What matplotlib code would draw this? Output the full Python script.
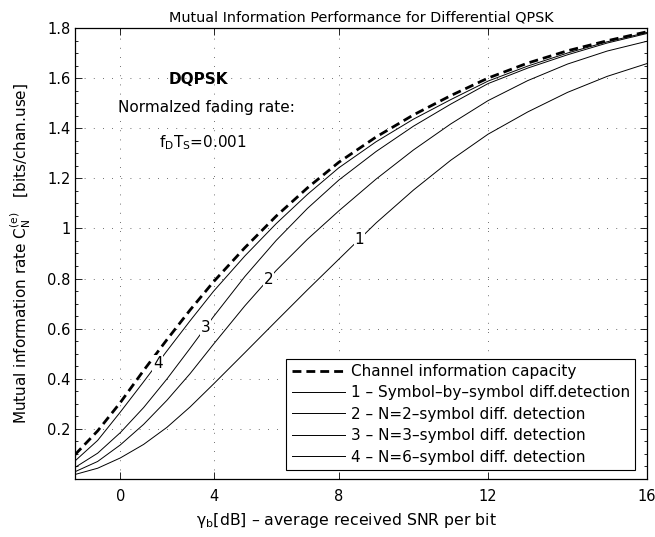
import numpy as np
import matplotlib.pyplot as plt
from matplotlib.ticker import FixedLocator, MultipleLocator, NullLocator

plt.rcParams['font.family'] = ['DejaVu Sans']
plt.rcParams['font.size'] = 11

# SNR per bit [dB]
snr_db = np.arange(-2, 17, 1)

# mutual information rate [bits/chan.use]
capacity = [0.097, 0.192, 0.305, 0.433, 0.556, 0.675, 0.787, 0.923, 1.049, 1.162,
            1.264, 1.365, 1.453, 1.530, 1.600, 1.660, 1.709, 1.749, 1.785]
n1_sym = [0.018, 0.043, 0.084, 0.138, 0.206, 0.288, 0.379, 0.504, 0.630, 0.755,
          0.877, 1.022, 1.153, 1.272, 1.376, 1.465, 1.543, 1.607, 1.658]
n2_sym = [0.029, 0.070, 0.136, 0.218, 0.314, 0.421, 0.538, 0.691, 0.832, 0.957,
          1.070, 1.197, 1.313, 1.417, 1.510, 1.590, 1.656, 1.708, 1.747]
n3_sym = [0.046, 0.103, 0.185, 0.285, 0.399, 0.522, 0.648, 0.808, 0.952, 1.080,
          1.193, 1.307, 1.408, 1.496, 1.578, 1.640, 1.693, 1.740, 1.778]
n6_sym = [0.072, 0.154, 0.267, 0.388, 0.511, 0.632, 0.749, 0.890, 1.019, 1.136,
          1.242, 1.346, 1.436, 1.514, 1.588, 1.648, 1.700, 1.745, 1.782]

curves = [n1_sym, n2_sym, n3_sym, n6_sym]
curve_tags = ['1', '2', '3', '4']
tag_db = [8.55, 5.75, 3.65, 1.6]

legend_labels = ['Channel information capacity',
                 '1 \u2013 Symbol\u2013by\u2013symbol diff.detection',
                 '2 \u2013 N=2\u2013symbol diff. detection',
                 '3 \u2013 N=3\u2013symbol diff. detection',
                 '4 \u2013 N=6\u2013symbol diff. detection']

x_ticks = [0, 4, 8, 12, 16]
y_ticks = [0.2, 0.4, 0.6, 0.8, 1.0, 1.2, 1.4, 1.6, 1.8]

# the x axis of the original is not evenly spaced in dB,
# this maps dB to the horizontal position the original uses
warp_db = np.array([-100, -2, 0, 4, 8, 12, 16, 100])
warp_pos = np.array([-2219.7, 0, 45.3, 138.5, 263.8, 413, 572, 3911])


def db_to_pos(x):
    return np.interp(x, warp_db, warp_pos)


def pos_to_db(p):
    return np.interp(p, warp_pos, warp_db)


fig = plt.figure(figsize=(6.55, 5.37), dpi=100)
ax = fig.add_axes([0.1145, 0.108, 0.8733, 0.8399])
ax.set_xscale('function', functions=(db_to_pos, pos_to_db))

ax.plot(snr_db, capacity, color='black', lw=2.0, dashes=(3.2, 1.8),
        label=legend_labels[0])
for vals, lab in zip(curves, legend_labels[1:]):
    ax.plot(snr_db, vals, color='black', lw=0.7, label=lab)

# curve numbers sitting on the lines
for vals, tag, xd in zip(curves, curve_tags, tag_db):
    ax.text(xd, np.interp(xd, snr_db, vals), tag, ha='center', va='center',
            bbox=dict(facecolor='white', edgecolor='none', pad=0.5))

ax.set_xlim(-2, 16)
ax.set_ylim(0, 1.8)
ax.xaxis.set_major_locator(FixedLocator(x_ticks))
ax.xaxis.set_minor_locator(NullLocator())
ax.yaxis.set_major_locator(FixedLocator(y_ticks))
ax.yaxis.set_minor_locator(MultipleLocator(0.05))
ax.set_xticklabels([str(t) for t in x_ticks])
ax.set_yticklabels([f'{t:g}' for t in y_ticks])

ax.tick_params(which='both', direction='in', top=True, right=True, width=0.6,
               labelsize=10.5)
ax.tick_params(which='major', length=5)
ax.tick_params(which='minor', length=2.5)
ax.tick_params(axis='x', pad=7)
ax.tick_params(axis='y', pad=3)
ax.grid(True, which='major', color='0.25', lw=0.6, linestyle=(0, (1, 10)))
for sp in ax.spines.values():
    sp.set_linewidth(0.9)

ax.set_title('Mutual Information Performance for Differential QPSK', fontsize=10.4, pad=5)
ax.set_xlabel('$\\mathregular{\\gamma_b}$[dB] \u2013 average received SNR per bit',
              fontsize=11.3)
ax.xaxis.set_label_coords(0.474, -0.07)
ax.set_ylabel(r'Mutual information rate $\mathregular{C_N^{(e)}}$   [bits/chan.use]',
              labelpad=10)

ax.text(0.215, 0.885, 'DQPSK', transform=ax.transAxes, ha='center', va='center',
        fontweight='bold')
ax.text(0.229, 0.823, 'Normalzed fading rate:', transform=ax.transAxes,
        ha='center', va='center')
ax.text(0.223, 0.745, r'$\mathregular{f_DT_S}$=0.001', transform=ax.transAxes,
        ha='center', va='center')

leg = ax.legend(loc='lower right', bbox_to_anchor=(0.979, 0.02), fancybox=False,
                edgecolor='black', framealpha=1, handlelength=3.5, labelspacing=0.42,
                borderpad=0.35, handletextpad=0.35, borderaxespad=0)
leg.get_frame().set_linewidth(0.8)

fig.savefig('out.png', dpi=100)
